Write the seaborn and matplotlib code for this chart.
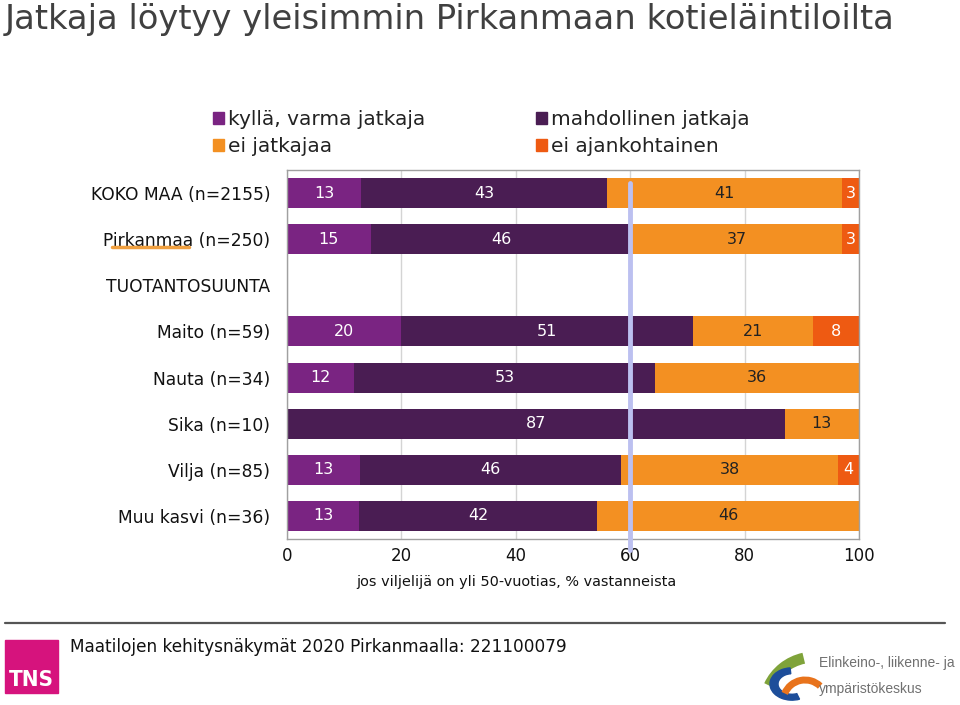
import numpy as np
import pandas as pd
import matplotlib
matplotlib.use("Agg")
import matplotlib.pyplot as plt
import seaborn as sns
from matplotlib.patches import Patch, Rectangle, Wedge, Arc
from matplotlib.lines import Line2D


# ==========================
# DATA
# ==========================

categories = ["KOKO MAA (n=2155)", "Pirkanmaa (n=250)", "TUOTANTOSUUNTA",
              "Maito (n=59)", "Nauta (n=34)", "Sika (n=10)",
              "Vilja (n=85)", "Muu kasvi (n=36)"]

series_names = ["kyllä, varma jatkaja", "mahdollinen jatkaja",
                "ei jatkajaa", "ei ajankohtainen"]

# segment widths (labels are these rounded)
kylla = [13.0, 14.6, 0, 20.0, 11.8, 0, 12.8, 12.6]
mahdollinen = [43.0, 45.6, 0, 51.0, 52.6, 87.0, 45.6, 41.6]
ei_jatkajaa = [41.0, 36.8, 0, 21.0, 35.6, 13.0, 37.9, 45.8]
ei_ajankoht = [3.0, 3.0, 0, 8.0, 0, 0, 3.7, 0]

x_ticks = [0, 20, 40, 60, 80, 100]
ref_line = 60

colors = ["#7A2482", "#4A1D53", "#F39022", "#EE5A12"]
label_colors = ["white", "white", "#222222", "white"]


# ==========================
# FIGURE
# ==========================

sns.set_style("white")
plt.rcParams["font.family"] = ["DejaVu Sans"]

fig = plt.figure(figsize=(9.6, 7.05), dpi=100)
W, H = 960, 705

ax = fig.add_axes([287 / W, 1 - 539 / H, 572 / W, 369 / H])

df = pd.DataFrame({"kategoria": categories,
                   series_names[0]: kylla,
                   series_names[1]: mahdollinen,
                   series_names[2]: ei_jatkajaa,
                   series_names[3]: ei_ajankoht})

cum = df[series_names].cumsum(axis=1)
cum["kategoria"] = df["kategoria"]

# stacked bars: draw cumulative totals from the last series backwards
for i in reversed(range(len(series_names))):
    sns.barplot(data=cum, x=series_names[i], y="kategoria", order=categories,
                color=colors[i], orient="h", width=0.65,
                saturation=1, linewidth=0, ax=ax, zorder=2)

# segment labels
for i, name in enumerate(series_names):
    for row in range(len(categories)):
        val = df.loc[row, name]
        if val <= 0:
            continue
        start = cum.loc[row, name] - val
        ax.text(start + val / 2, row, f"{val:.0f}", ha="center", va="center",
                fontsize=11.5, color=label_colors[i], zorder=4)

# reference line at 60
ax.axvline(ref_line, ymin=-0.03, ymax=0.965, color="#BCC0F0", lw=3.5,
           zorder=5, clip_on=False)

ax.set_xlim(0, 100)
ax.set_ylim(len(categories) - 0.5, -0.5)
ax.set_xticks(x_ticks)
ax.set_xticklabels([str(t) for t in x_ticks], fontsize=12, color="#111111")
ax.set_xlabel("")
ax.set_ylabel("")
ax.tick_params(axis="x", length=0, pad=6)
ax.tick_params(axis="y", which="major", length=0, pad=12, labelsize=12.3,
               labelcolor="#111111")
ax.set_yticks(np.arange(len(categories) + 1) - 0.5, minor=True)
ax.tick_params(axis="y", which="minor", length=4, color="#909090", width=1)

ax.grid(axis="x", color="#D4D4D4", lw=1)
ax.set_axisbelow(True)
for s in ax.spines.values():
    s.set_color("#A0A0A0")
    s.set_linewidth(1)

# x axis caption
fig.text(516 / W, 1 - 582 / H, "jos viljelijä on yli 50-vuotias, % vastanneista",
         ha="center", va="center", fontsize=10.4, color="#111111")

# underline under Pirkanmaa
fig.add_artist(Line2D([112 / W, 189 / W], [1 - 247 / H, 1 - 247 / H],
                      color="#F0A040", lw=2.5))


# ==========================
# LEGEND
# ==========================

handles = [Patch(color=colors[0]), Patch(color=colors[2]),
           Patch(color=colors[1]), Patch(color=colors[3])]
labels = [series_names[0], series_names[2], series_names[1], series_names[3]]

fig.legend(handles, labels, loc="upper left", ncol=2,
           bbox_to_anchor=(195 / W, 1 - 92 / H), frameon=False,
           fontsize=14.5, handlelength=0.55, handleheight=0.55,
           handletextpad=0.2, columnspacing=5.5, labelspacing=0.4,
           labelcolor="#222222")


# ==========================
# TITLE AND FOOTER
# ==========================

fig.text(5 / W, 1 - 29 / H, "Jatkaja löytyy yleisimmin Pirkanmaan kotieläintiloilta",
         ha="left", va="baseline", fontsize=24.3, color="#404040")

fig.add_artist(Line2D([5 / W, 945 / W], [1 - 623 / H, 1 - 623 / H],
                      color="#555555", lw=1.6))

fig.add_artist(Rectangle((5 / W, 1 - 693 / H), 53 / W, 53 / H,
                         color="#D6137D", transform=fig.transFigure))
fig.text(9 / W, 1 - 680 / H, "TNS", color="white", fontsize=16,
         fontweight="bold", ha="left", va="center", fontstretch="condensed")

fig.text(70 / W, 1 - 647 / H, "Maatilojen kehitysnäkymät 2020 Pirkanmaalla: 221100079",
         ha="left", va="center", fontsize=12.2, color="#111111")

# ELY logo (rough)
fig.add_artist(Arc((815 / W, 1 - 705 / H), 100 / W, 96 / H, theta1=100, theta2=150,
                   color="#7FA33A", lw=8, transform=fig.transFigure))
fig.add_artist(Wedge((792 / W, 1 - 684 / H), 22 / W, 95, 290, width=8 / W,
                     color="#1D4E9A", transform=fig.transFigure))
fig.add_artist(Arc((805 / W, 1 - 702 / H), 44 / W, 44 / H, theta1=55, theta2=150,
                   color="#E8731C", lw=5, transform=fig.transFigure))
fig.text(819 / W, 1 - 663 / H, "Elinkeino-, liikenne- ja", ha="left", va="center",
         fontsize=10, color="#707070", family=["Liberation Sans", "DejaVu Sans"])
fig.text(819 / W, 1 - 689 / H, "ympäristökeskus", ha="left", va="center",
         fontsize=10, color="#707070", family=["Liberation Sans", "DejaVu Sans"])

fig.savefig("out.png", dpi=100)
